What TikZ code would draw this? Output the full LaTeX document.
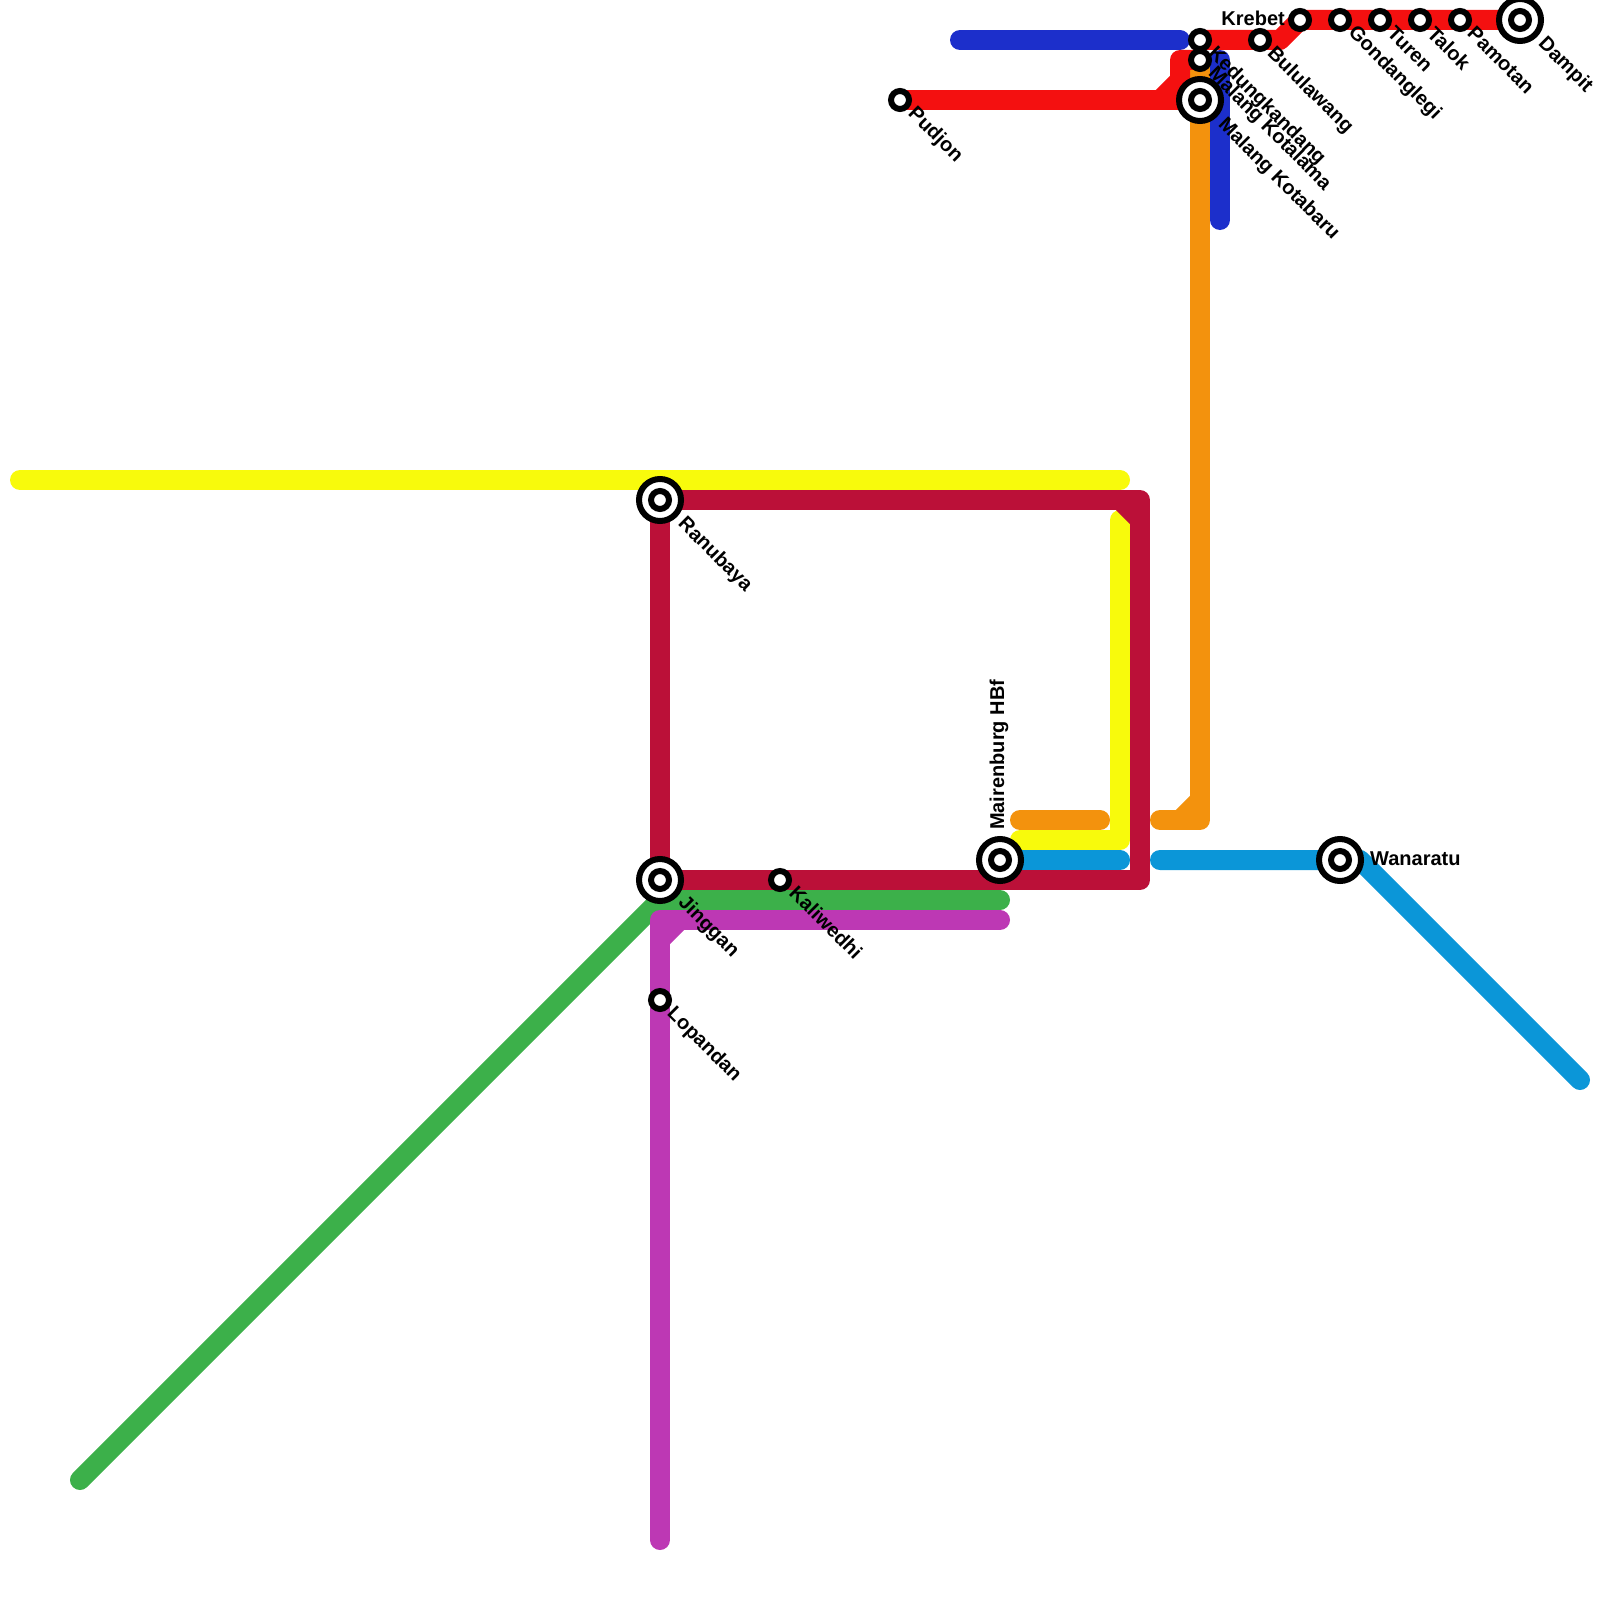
\documentclass[tikz,border=0pt]{standalone}
\usepackage{fontspec}
\setmainfont{Liberation Sans}
\usetikzlibrary{backgrounds}
\definecolor{cyellow}{HTML}{F8FA0C}
\definecolor{ccrimson}{HTML}{BB1038}
\definecolor{cgreen}{HTML}{3CB04A}
\definecolor{cpurple}{HTML}{BD38B4}
\definecolor{corange}{HTML}{F3920D}
\definecolor{ccyan}{HTML}{0B96D8}
\definecolor{cred}{HTML}{F41010}
\definecolor{cblue}{HTML}{1C2FCB}
\tikzset{
  x=1pt,y=-1pt,
  route/.style={line width=20pt,line cap=round,line join=round,draw=#1},
  chamfer/.style={line width=20pt,line cap=butt,draw=#1},
  stop/.style={circle,draw=black,line width=6pt,fill=white,minimum size=18pt,inner sep=0pt,outer sep=0pt},
  hubring/.style={circle,draw=black,line width=6pt,fill=white,minimum size=42pt,inner sep=0pt,outer sep=0pt},
  hubdot/.style={circle,draw=black,line width=6pt,fill=white,minimum size=18pt,inner sep=0pt,outer sep=0pt},
  lab/.style={font=\fontsize{20pt}{20pt}\selectfont\bfseries,inner sep=0pt,text=black},
  dlab/.style={lab,rotate=-45,anchor=west},
}
\begin{document}
\begin{tikzpicture}
\useasboundingbox (0,0) rectangle (1600,1600);
% stations
\node[stop] (pujon) at (900,100) {};
\node[stop] (kedung) at (1200,40) {};
\node[stop] (kotalama) at (1200,60) {};
\node[hubring] (kotabaru) at (1200,100) {};
\node[hubdot] (kotabaruin) at (1200,100) {};
\node[stop] (bulu) at (1260,40) {};
\node[stop] (krebet) at (1300,20) {};
\node[stop] (gondang) at (1340,20) {};
\node[stop] (turen) at (1380,20) {};
\node[stop] (talok) at (1420,20) {};
\node[stop] (pamotan) at (1460,20) {};
\node[hubring] (dampit) at (1520,20) {};
\node[hubdot] (dampitin) at (1520,20) {};
\node[hubring] (ranubaya) at (660,500) {};
\node[hubdot] (ranubayain) at (660,500) {};
\node[hubring] (jinggan) at (660,880) {};
\node[hubdot] (jingganin) at (660,880) {};
\node[stop] (kaliwedhi) at (780,880) {};
\node[stop] (lopandan) at (660,1000) {};
\node[hubring] (mairen) at (1000,860) {};
\node[hubdot] (maireniin) at (1000,860) {};
\node[hubring] (wanaratu) at (1340,860) {};
\node[hubdot] (wanaratuin) at (1340,860) {};
% labels
\node[dlab] (lpujon) at (911,111) {Pudjon};
\node[dlab] (lkedung) at (1211,51) {Kedungkandang};
\node[dlab] (lkotalama) at (1211,71) {Malang Kotalama};
\node[dlab] (lkotabaru) at (1221,122) {Malang Kotabaru};
\node[dlab] (lbulu) at (1270,51) {Bululawang};
\node[lab,anchor=east] (lkrebet) at (1285,18) {Krebet};
\node[dlab] (lgondang) at (1351,30) {Gondanglegi};
\node[dlab] (lturen) at (1391,30) {Turen};
\node[dlab] (ltalok) at (1431,30) {Talok};
\node[dlab] (lpamotan) at (1471,30) {Pamotan};
\node[dlab] (ldampit) at (1541,41) {Dampit};
\node[dlab] (lranubaya) at (681,521) {Ranubaya};
\node[dlab] (ljinggan) at (681,900) {Jinggan};
\node[dlab] (lkaliwedhi) at (793,889) {Kaliwedhi};
\node[dlab] (llopandan) at (670,1011) {Lopandan};
\node[lab,rotate=90,anchor=west] (lmairen) at (999,830) {Mairenburg HBf};
\node[lab,anchor=west] (lwanaratu) at (1370,859) {Wanaratu};
% free ends and bends
\begin{scope}
\coordinate (y1) at (20,480);
\coordinate (y2) at (1120,480);
\coordinate (y3) at (1120,520);
\coordinate (y4) at (1120,840);
\coordinate (y5) at (1020,840);
\coordinate (c1) at (1140,500);
\coordinate (c2) at (1140,880);
\coordinate (c3) at (1120,500);
\coordinate (c4) at (1140,520);
\coordinate (o1) at (1020,820);
\coordinate (o2) at (1100,820);
\coordinate (o3) at (1160,820);
\coordinate (o4) at (1200,820);
\coordinate (o5) at (1180,820);
\coordinate (o6) at (1200,800);
\coordinate (b1) at (1120,860);
\coordinate (b2) at (1160,860);
\coordinate (b3) at (1360,860);
\coordinate (b4) at (1580,1080);
\coordinate (g1) at (80,1480);
\coordinate (g2) at (660,900);
\coordinate (g3) at (1000,900);
\coordinate (p1) at (660,1540);
\coordinate (p2) at (660,920);
\coordinate (p3) at (1000,920);
\coordinate (p4) at (660,940);
\coordinate (p5) at (680,920);
\coordinate (d1) at (960,40);
\coordinate (d2) at (1180,40);
\coordinate (d3) at (1220,60);
\coordinate (d4) at (1220,220);
\coordinate (r1) at (1160,100);
\coordinate (r2) at (1180,80);
\coordinate (r3) at (1180,60);
\coordinate (r4) at (1280,40);
\end{scope}
\begin{scope}[on background layer]
\draw[route=cblue] (d1) -- (d2);
\draw[route=cblue] (d3) -- (d4);
\draw[route=corange] (kotalama.center) -- (o4) -- (o3);
\draw[chamfer=corange] (o5) -- (o6);
\draw[route=corange] (o1) -- (o2);
\draw[route=cred] (pujon.center) -- (kotabaru.center);
\draw[route=cred] (r1) -- (r2) -- (r3) -- (kotalama.center);
\draw[route=cred] (kedung.center) -- (bulu.center) -- (r4) -- (krebet.center) -- (gondang.center) -- (turen.center) -- (talok.center) -- (pamotan.center) -- (dampit.center);
\draw[route=cyellow] (y1) -- (y2);
\draw[route=cyellow] (y3) -- (y4) -- (y5);
\draw[route=ccyan] (mairen.center) -- (b1);
\draw[route=ccyan] (b2) -- (wanaratu.center) -- (b3) -- (b4);
\draw[route=cgreen] (g1) -- (g2) -- (g3);
\draw[route=cpurple] (p1) -- (p2) -- (p3);
\draw[chamfer=cpurple] (p4) -- (p5);
\draw[route=ccrimson] (ranubaya.center) -- (c1) -- (c2) -- (jinggan.center) -- cycle;
\draw[chamfer=ccrimson] (c3) -- (c4);
\end{scope}
\end{tikzpicture}
\end{document}
